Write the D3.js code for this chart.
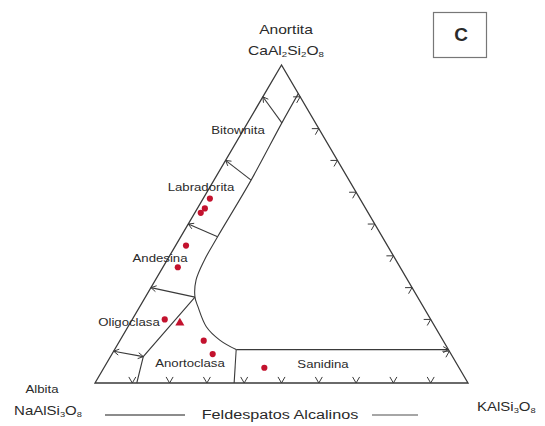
<!DOCTYPE html>
<html>
<head>
<meta charset="utf-8">
<script src="https://cdn.jsdelivr.net/npm/d3@7"></script>
<style>
  body { margin: 0; background: #fff; }
  svg { display: block; }
  text { font-family: "Liberation Sans", Arial, sans-serif; fill: #2a2a2a; }
</style>
</head>
<body>
<svg id="chart" width="545" height="426"></svg>
<script>
// Compositions are given as [An, Or] mole fractions; Ab is the remainder.

// Plagioclase division lines along the Ab–An join (An fraction at the edge)
const tieAn = [0.9, 0.7, 0.5, 0.3, 0.1];
// Inner ends of those division lines
const tieInner = [[0.818, 0.092], [0.638, 0.0995], [0.46, 0.0987], [0.27, 0.133], [0.083, 0.088]];

// Limit of the plagioclase strip, running into the alkali-feldspar curve
const plagLimit = [[0.91, 0.09], [0.818, 0.092], [0.638, 0.0995], [0.46, 0.0987],
                   [0.387, 0.100], [0.324, 0.109], [0.27, 0.133], [0.24, 0.156],
                   [0.177, 0.21], [0.135, 0.267], [0.105, 0.326]];
// Line closing the alkali-feldspar field (constant An)
const alkaliTop = [[0.105, 0.326], [0.105, 0.895]];
// Oligoclase / anorthoclase divide
const oligoDivide = [[0.27, 0.133], [0.083, 0.088], [0.0, 0.112]];
// Anorthoclase / sanidine divide
const sanidineDivide = [[0.105, 0.326], [0.0, 0.373]];

// Tick fractions along the An–Or and Ab–Or edges
const rightTicks = [0.1, 0.2, 0.3, 0.4, 0.5, 0.6, 0.7, 0.8, 0.9];
const baseTicks = [0.1, 0.2, 0.3, 0.4, 0.5, 0.6, 0.7, 0.8, 0.9];

// Analysed samples
const sampleAn = [0.580, 0.549, 0.535, 0.432, 0.364, 0.200, 0.189, 0.133, 0.091, 0.048];
const sampleOr = [0.018, 0.020, 0.016, 0.028, 0.040, 0.087, 0.133, 0.225, 0.270, 0.430];
const sampleShape = ["circle", "circle", "circle", "circle", "circle", "circle",
                     "triangle", "circle", "circle", "circle"];

// Field names and end-member labels
const fieldNames = ["Bitownita", "Labradorita", "Andesina", "Oligoclasa", "Anortoclasa", "Sanidina"];
const apexName = ["Anortita", [["CaAl", 0], ["2", 1], ["Si", 0], ["2", 1], ["O", 0], ["8", 1]]];
const leftName = ["Albita", [["NaAlSi", 0], ["3", 1], ["O", 0], ["8", 1]]];
const rightFormula = [["KAlSi", 0], ["3", 1], ["O", 0], ["8", 1]];
const baseTitle = "Feldespatos Alcalinos";
const panelLetter = "C";

// ---- layout ----
const svg = d3.select("#chart");
const sx = d3.scaleLinear().domain([0, 1]).range([95, 468]);   // along the Ab–Or base
const sy = d3.scaleLinear().domain([0, 1]).range([383, 65]);   // An height
const proj = ([an, or]) => [sx(or + an / 2), sy(an)];

const ink = "#3a3a3a";
const line = d3.line().x(d => proj(d)[0]).y(d => proj(d)[1]);
const smooth = d3.line().x(d => proj(d)[0]).y(d => proj(d)[1]).curve(d3.curveCatmullRom.alpha(0.5));

const g = svg.append("g").attr("fill", "none").attr("stroke", ink).attr("stroke-width", 1.1);

// outer triangle
g.append("path").attr("d", line([[1, 0], [0, 0], [0, 1]]) + "Z").attr("stroke-width", 1.3);

// field boundaries
g.append("path").attr("d", smooth(plagLimit));
g.append("path").attr("d", line(alkaliTop));
g.append("path").attr("d", line(oligoDivide));
g.append("path").attr("d", line(sanidineDivide));
tieAn.forEach((a, i) => g.append("path").attr("d", line([[a, 0], tieInner[i]])));

// chevron arrowhead with its point at p, pointing along angle ang (radians)
function chevron(p, ang, len = 7, spread = Math.PI / 6) {
  const back = ang + Math.PI;
  const a1 = [p[0] + len * Math.cos(back - spread), p[1] + len * Math.sin(back - spread)];
  const a2 = [p[0] + len * Math.cos(back + spread), p[1] + len * Math.sin(back + spread)];
  g.append("path").attr("d", `M${a1}L${p}L${a2}`).attr("stroke-width", 1);
}

// ticks along the An–Or edge point outward, normal to the edge
const apex = proj([1, 0]), orCorner = proj([0, 1]);
const rightNormal = Math.atan2(-(orCorner[0] - apex[0]), orCorner[1] - apex[1]);
rightTicks.forEach(a => chevron(proj([a, 1 - a]), rightNormal));

// ticks along the base point down
baseTicks.forEach(o => chevron(proj([0, o]), Math.PI / 2));

// arrows on the plagioclase division lines, pointing at the Ab–An edge
tieAn.forEach((a, i) => {
  const p0 = proj([a, 0]), p1 = proj(tieInner[i]);
  chevron(p0, Math.atan2(p0[1] - p1[1], p0[0] - p1[0]), 6);
});
{
  const p0 = proj([tieAn[4], 0]), p1 = proj(tieInner[4]);
  chevron(p1, Math.atan2(p1[1] - p0[1], p1[0] - p0[0]), 6);
  chevron(proj(alkaliTop[1]), 0, 6);
}

// samples
const pts = sampleAn.map((a, i) => ({ an: a, or: sampleOr[i], shape: sampleShape[i] }));
svg.append("g").selectAll("path").data(pts).join("path")
  .attr("transform", d => `translate(${proj([d.an, d.or])})`)
  .attr("d", d => d3.symbol().type(d.shape === "triangle" ? d3.symbolTriangle : d3.symbolCircle)
                    .size(d.shape === "triangle" ? 36 : 30)())
  .attr("fill", "#c3122e");

// ---- text ----
const stretch = 1.2;
function label(x, y, parts, size, anchor = "middle", weight = "normal") {
  const t = svg.append("text")
    .attr("transform", `translate(${x},${y}) scale(${stretch},1)`)
    .attr("text-anchor", anchor)
    .attr("font-size", size)
    .attr("font-weight", weight);
  if (typeof parts === "string") { t.text(parts); return t; }
  parts.forEach(([s, sub], i) => {
    const prev = i > 0 ? parts[i - 1][1] : 0;
    const ts = t.append("tspan").text(s)
      .attr("dy", sub && !prev ? 2 : (!sub && prev ? -2 : 0));
    if (sub) ts.attr("font-size", size * 0.62);
  });
  return t;
}

const fieldPos = [[238, 134], [201, 191], [160, 262], [129, 326], [190, 367], [323, 368]];
fieldNames.forEach((n, i) => label(fieldPos[i][0], fieldPos[i][1], n, 11));

label(286, 34, apexName[0], 13);
label(286, 55, apexName[1], 13);
label(42, 393, leftName[0], 11);
label(48, 415, leftName[1], 12.5);
label(477, 411, rightFormula, 12.5, "start");
label(280, 419, baseTitle, 13.5);

// dashes either side of the base title
svg.append("line").attr("x1", 105).attr("x2", 185).attr("y1", 415).attr("y2", 415)
  .attr("stroke", "#666").attr("stroke-width", 1.6);
svg.append("line").attr("x1", 372).attr("x2", 418).attr("y1", 415).attr("y2", 415)
  .attr("stroke", "#888").attr("stroke-width", 1.6);

// panel letter box
svg.append("rect").attr("x", 433.5).attr("y", 12.5).attr("width", 53).attr("height", 45)
  .attr("fill", "#fff").attr("stroke", "#777").attr("stroke-width", 1.2);
svg.append("text").attr("x", 461).attr("y", 41).attr("text-anchor", "middle")
  .attr("font-size", 19).attr("font-weight", "bold").text(panelLetter);
</script>
</body>
</html>
